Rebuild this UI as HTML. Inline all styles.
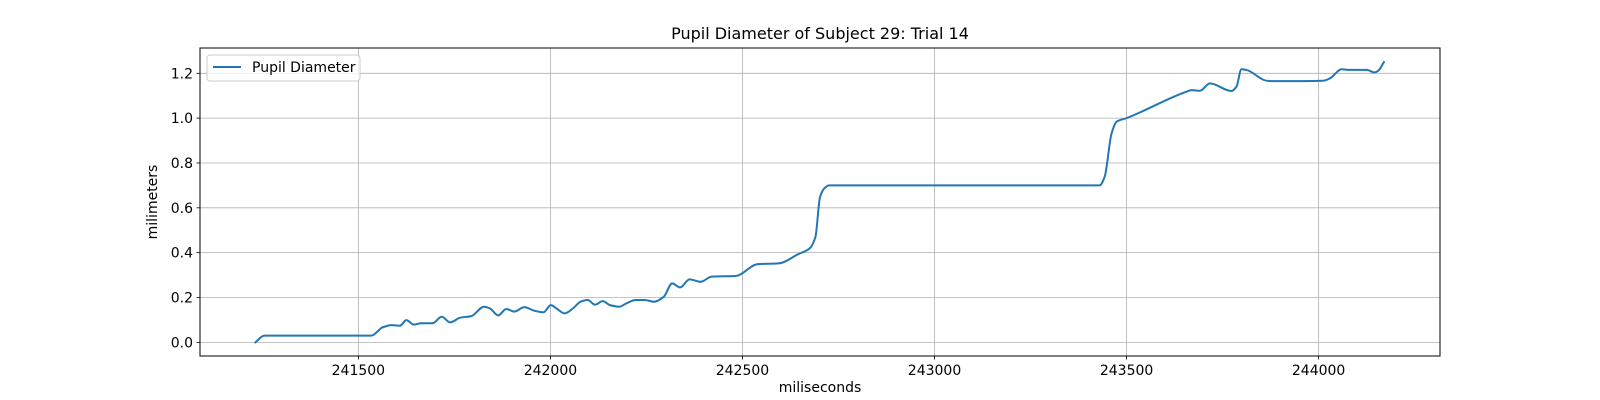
<!DOCTYPE html>
<html><head><meta charset="utf-8">
<style>
html,body{margin:0;padding:0;background:#fff;}
svg{display:block;font-family:"DejaVu Sans","Liberation Sans",sans-serif;}
</style></head>
<body>
<svg id="chart" width="1600" height="400" viewBox="0 0 1600 400" xmlns="http://www.w3.org/2000/svg">
<rect x="0" y="0" width="1600" height="400" fill="#fff"/>
<g id="grid"></g>
<g id="xticks"></g>
<g id="yticks"></g>
<g id="series"></g>
<rect x="200" y="48" width="1240" height="308" fill="none" stroke="#000" stroke-width="1"/>
<text x="820" y="39" text-anchor="middle" font-size="16" fill="#000">Pupil Diameter of Subject 29: Trial 14</text>
<text x="820" y="392" text-anchor="middle" font-size="14" fill="#000">miliseconds</text>
<text transform="translate(157,202) rotate(-90)" text-anchor="middle" font-size="14" fill="#000">milimeters</text>
<g>
<rect x="207" y="55" width="153" height="26" rx="3" fill="#fff" fill-opacity="0.8" stroke="#ccc"/>
<line x1="213" y1="67" x2="241" y2="67" stroke="#1f77b4" stroke-width="2"/>
<text x="252" y="72" font-size="14" fill="#000">Pupil Diameter</text>
</g>
</svg>
<script>
const timesMs = [241232,241255,241534,241563,241587,241608,241625,241644,241664,241693,241717,241739,241765,241794,241827,241842,241864,241885,241906,241932,241958,241982,242001,242015,242037,242059,242078,242097,242116,242136,242155,242179,242198,242222,242246,242270,242295,242317,242338,242362,242391,242420,242482,242540,242593,242646,242675,242690,242702,242715,242725,243430,243443,243461,243474,243500,243656,243669,243691,243717,243773,243786,243799,243812,243864,243881,244012,244029,244060,244081,244125,244146,244155,244170];
const diameterMm = [0,0.03,0.03,0.067,0.077,0.074,0.099,0.079,0.085,0.085,0.114,0.089,0.110,0.117,0.159,0.152,0.120,0.149,0.137,0.157,0.141,0.134,0.166,0.152,0.129,0.152,0.181,0.189,0.168,0.184,0.166,0.159,0.174,0.189,0.189,0.181,0.203,0.263,0.245,0.281,0.270,0.293,0.296,0.349,0.352,0.394,0.419,0.471,0.649,0.69,0.70,0.70,0.739,0.932,0.984,1.000,1.118,1.125,1.122,1.155,1.121,1.140,1.218,1.215,1.167,1.165,1.167,1.177,1.218,1.215,1.215,1.204,1.211,1.25];
const xTickValues = [241500,242000,242500,243000,243500,244000];
const yTickValues = [0,0.2,0.4,0.6,0.8,1.0,1.2];

const NS="http://www.w3.org/2000/svg";
const L=200,R=1440,T=48,B=356;
const xmin=241087.7,xmax=244316,ymin=-0.0609,ymax=1.3128;
function xs(v){return L+(v-xmin)/(xmax-xmin)*(R-L);}
function ys(v){return B-(v-ymin)/(ymax-ymin)*(B-T);}
function mk(tag,attrs,parent){const e=document.createElementNS(NS,tag);for(const k in attrs)e.setAttribute(k,attrs[k]);parent.appendChild(e);return e;}
const grid=document.getElementById('grid'),xt=document.getElementById('xticks'),yt=document.getElementById('yticks'),ser=document.getElementById('series');
xTickValues.forEach(v=>{
  const x=xs(v);
  const gl=mk('line',{x1:x,x2:x,y1:T,y2:B,stroke:'#b0b0b0','stroke-width':0.8},grid);
  
  
  mk('line',{x1:x,x2:x,y1:B,y2:B+3.5,stroke:'#000','stroke-width':0.8},xt);
  const t=mk('text',{x:x,y:B+19,'text-anchor':'middle','font-size':14,fill:'#000'},xt);
  t.textContent=String(v);
  
  
});
yTickValues.forEach(v=>{
  const y=ys(v);
  const gl=mk('line',{x1:L,x2:R,y1:y,y2:y,stroke:'#b0b0b0','stroke-width':0.8},grid);
  
  
  mk('line',{x1:L-3.5,x2:L,y1:y,y2:y,stroke:'#000','stroke-width':0.8},yt);
  const t=mk('text',{x:L-7,y:y+5,'text-anchor':'end','font-size':14,fill:'#000'},yt);
  t.textContent=v.toFixed(1);
  
  
});
// monotone cubic (Fritsch-Carlson) in screen space
const px=timesMs.map(xs), py=diameterMm.map(ys);
const n=px.length, sl=[], m=[];
for(let i=0;i<n-1;i++) sl.push((py[i+1]-py[i])/(px[i+1]-px[i]));
for(let i=0;i<n;i++){
  if(i===0) m.push(sl[0]);
  else if(i===n-1) m.push(sl[n-2]);
  else if(sl[i-1]*sl[i]<=0) m.push(0);
  else {
    const h0=px[i]-px[i-1],h1=px[i+1]-px[i];
    const w1=2*h1+h0,w2=h1+2*h0;
    m.push((w1+w2)/(w1/sl[i-1]+w2/sl[i]));
  }
}
let d='M'+px[0].toFixed(2)+','+py[0].toFixed(2);
for(let i=0;i<n-1;i++){
  const h=(px[i+1]-px[i])/3;
  d+=' C'+(px[i]+h).toFixed(2)+','+(py[i]+m[i]*h).toFixed(2)+' '+(px[i+1]-h).toFixed(2)+','+(py[i+1]-m[i+1]*h).toFixed(2)+' '+px[i+1].toFixed(2)+','+py[i+1].toFixed(2);
}
const path=mk('path',{d:d,fill:'none',stroke:'#1f77b4','stroke-width':2,'stroke-linejoin':'round','stroke-linecap':'square'},ser);


</script>
</body></html>
